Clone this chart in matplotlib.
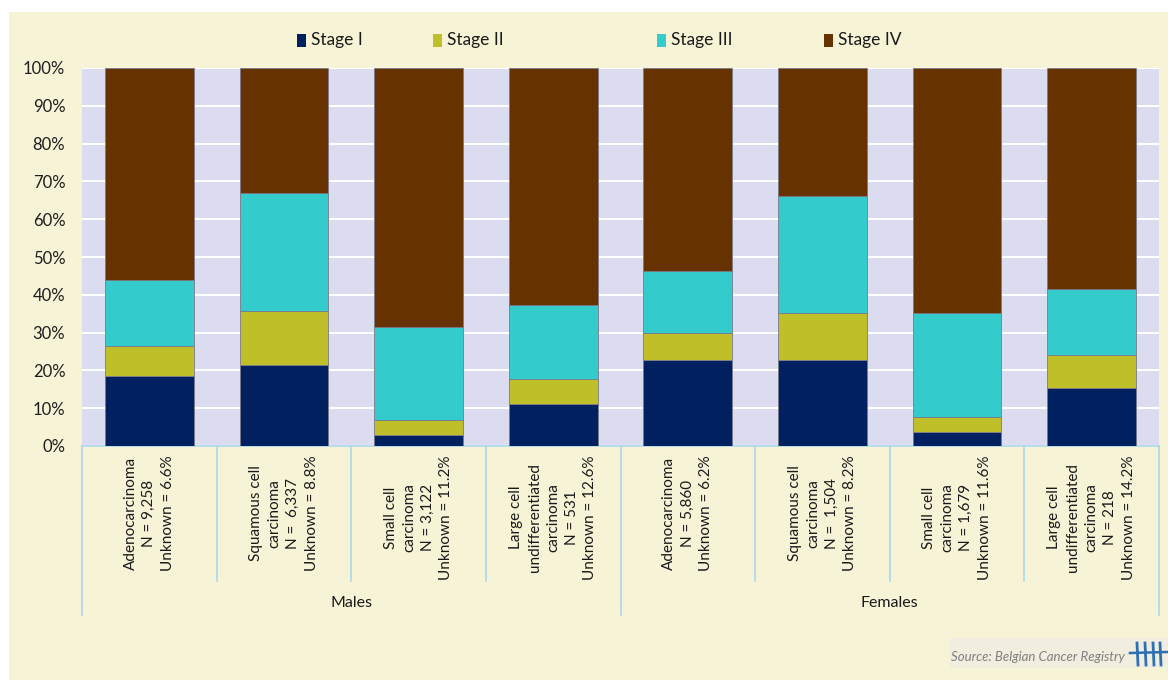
import matplotlib
matplotlib.use("Agg")
import matplotlib.pyplot as plt
import numpy as np
from matplotlib.patches import Rectangle
from matplotlib.lines import Line2D

plt.rcParams["font.family"] = ["Lato", "DejaVu Sans"]

# --- data (percent of staged cases) ---
groups = ["Males", "Females"]
categories = [
    "Adenocarcinoma\nN = 9,258\nUnknown = 6.6%",
    "Squamous cell\ncarcinoma\nN =  6,337\nUnknown = 8.8%",
    "Small cell\ncarcinoma\nN = 3,122\nUnknown = 11.2%",
    "Large cell\nundifferentiated\ncarcinoma\nN = 531\nUnknown = 12.6%",
    "Adenocarcinoma\nN = 5,860\nUnknown = 6.2%",
    "Squamous cell\ncarcinoma\nN =  1,504\nUnknown = 8.2%",
    "Small cell\ncarcinoma\nN = 1,679\nUnknown = 11.6%",
    "Large cell\nundifferentiated\ncarcinoma\nN = 218\nUnknown = 14.2%",
]
stage_names = ["Stage I", "Stage II", "Stage III", "Stage IV"]
stage_1 = [18.5, 21.5, 2.8, 11.2, 22.7, 22.7, 3.8, 15.3]
stage_2 = [8.0, 14.1, 4.1, 6.5, 7.1, 12.4, 3.9, 8.7]
stage_3 = [17.4, 31.3, 24.5, 19.5, 16.5, 31.0, 27.4, 17.6]
stage_4 = [56.1, 33.1, 68.6, 62.8, 53.7, 33.9, 64.9, 58.4]
yticks = [0, 10, 20, 30, 40, 50, 60, 70, 80, 90, 100]

colors = ["#00205F", "#BFBF2A", "#33CBCC", "#663300"]
cream = "#F7F3D7"
plot_bg = "#DCDCF1"
sep_color = "#A9D8EC"

fig = plt.figure(figsize=(11.68, 6.8), dpi=100)
fig.patch.set_facecolor("white")
fig.patches.append(Rectangle((9 / 1168, 0), 1 - 9 / 1168, 1 - 12 / 680,
                             transform=fig.transFigure, facecolor=cream,
                             edgecolor="none", zorder=-10))

ax = fig.add_axes([82 / 1168, 1 - 446 / 680, (1159 - 82) / 1168, 378 / 680])
ax.set_facecolor(plot_bg)

x = np.arange(len(categories))
bottom = np.zeros(len(categories))
for name, vals, col in zip(stage_names, [stage_1, stage_2, stage_3, stage_4], colors):
    vals = np.array(vals)
    ax.bar(x, vals, 0.66, bottom=bottom, color=col, edgecolor="#7A7A8A",
           linewidth=0.6, zorder=3, label=name)
    bottom += vals

ax.set_xlim(-0.5, len(categories) - 0.5)
ax.set_ylim(0, 100)
ax.set_yticks(yticks)
ax.set_yticklabels([f"{v}%" for v in yticks], fontsize=12, color="#1E1E1E")
ax.tick_params(axis="y", length=0, pad=12)
ax.set_xticks([])
ax.grid(axis="y", color="white", linewidth=1.5, zorder=1)
for s in ["top", "right", "left"]:
    ax.spines[s].set_visible(False)
ax.spines["bottom"].set_color(sep_color)
ax.spines["bottom"].set_linewidth(1.2)

tr = ax.get_xaxis_transform()
# category labels
for i, lab in enumerate(categories):
    ax.text(i, -0.025, lab, transform=tr, rotation=90, ha="center", va="top",
            multialignment="center", fontsize=11, color="#1A1A1A", linespacing=1.42)

# separators under the axis
n = len(categories)
for k in range(n + 1):
    xpos = k - 0.5
    ylow = -0.447 if k in (0, n // 2, n) else -0.357
    ax.add_line(Line2D([xpos, xpos], [0, ylow], transform=tr, color=sep_color,
                       linewidth=1.2, clip_on=False))

# group labels
for g, name in enumerate(groups):
    center = g * (n // 2) + (n // 2 - 1) / 2
    ax.text(center, -0.415, name, transform=tr, ha="center", va="center",
            fontsize=11.5, color="#1A1A1A")

# legend
legend_x = [297, 433, 657, 824]
for name, col, lx in zip(stage_names, colors, legend_x):
    fig.patches.append(Rectangle((lx / 1168, 1 - 47 / 680), 9 / 1168, 13 / 680,
                                 transform=fig.transFigure, facecolor=col,
                                 edgecolor="none"))
    fig.text((lx + 14) / 1168, 1 - 40 / 680, name, ha="left", va="center",
             fontsize=12.5, color="#1A1A1A")

# source box
fig.patches.append(Rectangle((950 / 1168, 1 - 668 / 680), 218 / 1168, 30 / 680,
                             transform=fig.transFigure, facecolor="#F1EEDF",
                             edgecolor="none"))
fig.text(951 / 1168, 1 - 657 / 680, "Source: Belgian Cancer Registry", ha="left",
         va="center", fontsize=9.5, style="italic", color="#7F7F7F")
logo = "#2F6FB5"
for lx in [1137, 1145, 1153, 1160]:
    fig.lines.append(Line2D([lx / 1168, (lx + 1) / 1168], [1 - 643 / 680, 1 - 665 / 680],
                            transform=fig.transFigure, color=logo, linewidth=2))
fig.lines.append(Line2D([1130 / 1168, 1167 / 1168], [1 - 653 / 680, 1 - 652 / 680],
                        transform=fig.transFigure, color=logo, linewidth=1.8))

fig.savefig("out.png", dpi=100, facecolor=fig.get_facecolor())
